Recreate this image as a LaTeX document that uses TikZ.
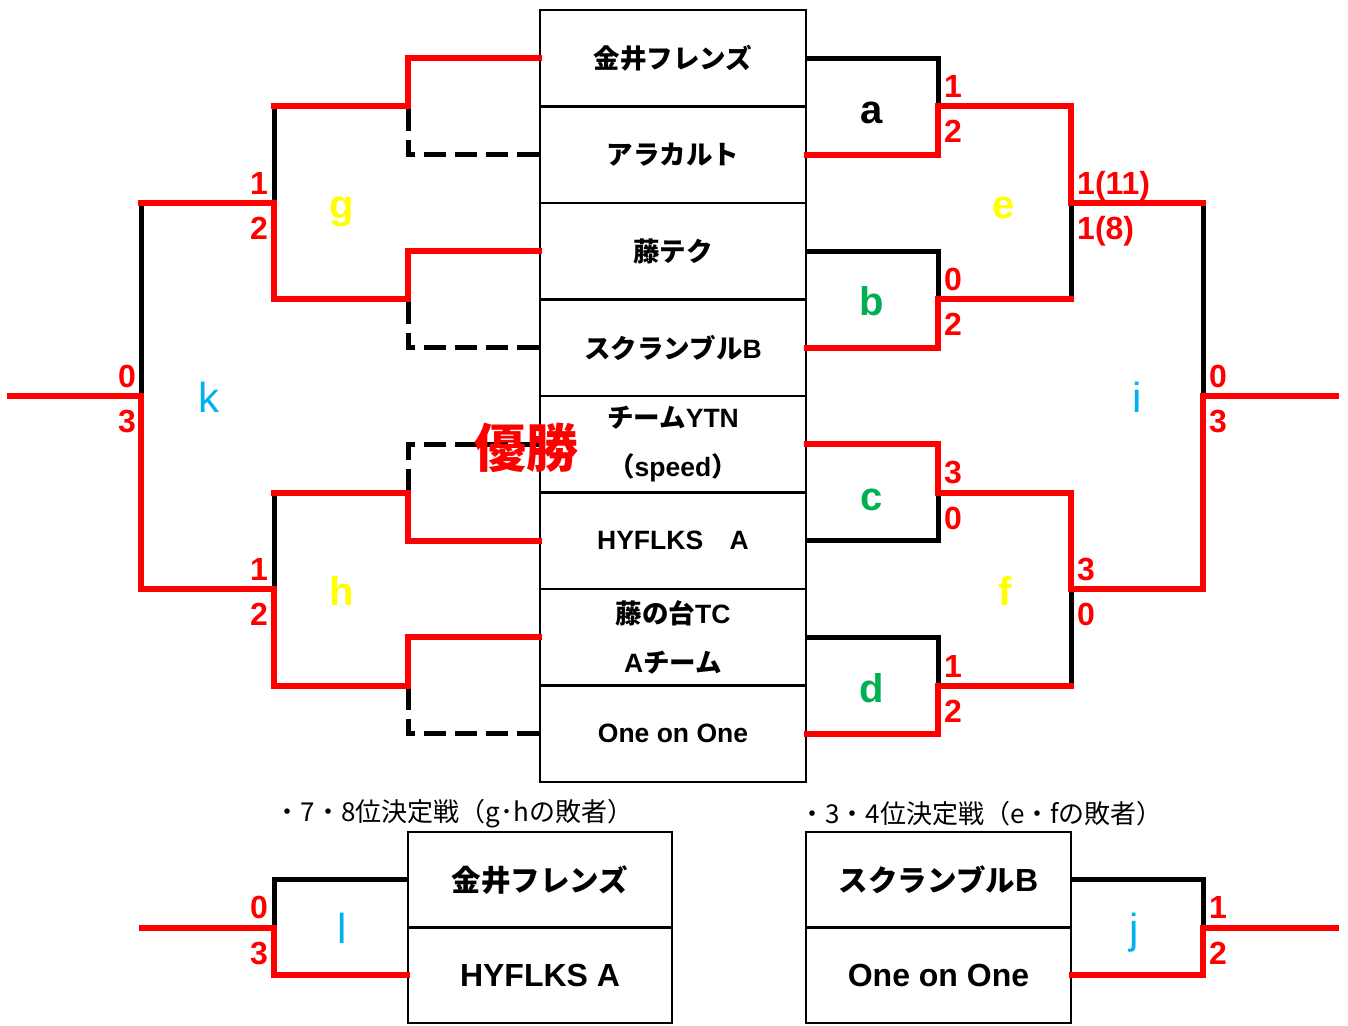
\documentclass[tikz,border=0pt]{standalone}
\usepackage{fontspec}
\setmainfont{Liberation Sans}
\newfontfamily\jp{Noto Sans CJK JP}
\newcommand{\jpS}[1]{{\jp\fontsize{29.5}{40}\selectfont #1}}
\definecolor{myred}{RGB}{255,0,0}
\definecolor{myyel}{RGB}{255,255,0}
\definecolor{mygrn}{RGB}{0,176,80}
\definecolor{myblu}{RGB}{0,176,240}
\begin{document}
\begin{tikzpicture}[x=1pt,y=-1pt,
  cell/.style={draw=black, line width=2.5pt, minimum width=266pt, minimum height=96.5pt, inner sep=0pt, align=center, font=\fontsize{26.5}{49}\selectfont\bfseries},
  bcell/.style={draw=black, line width=2.5pt, minimum width=265pt, minimum height=95.5pt, inner sep=0pt, align=center, font=\fontsize{32}{40}\selectfont\bfseries},
  win/.style={draw=myred, line width=6pt, line join=miter, line cap=rect},
  lose/.style={draw=black, line width=5pt, line join=miter, line cap=rect},
  dashline/.style={draw=black, line width=5pt, dash pattern=on 22pt off 9pt},
  score/.style={text=myred, font=\fontsize{32}{32}\selectfont\bfseries, inner sep=0pt},
  lt/.style={font=\fontsize{40}{40}\selectfont\bfseries, inner sep=0pt, anchor=base},
  ltr/.style={font=\fontsize{42}{42}\selectfont, inner sep=0pt, anchor=base, text=myblu},
  head/.style={font=\jp\fontsize{26}{26}\selectfont, inner sep=0pt}
]
\useasboundingbox[fill=white] (0,0) rectangle (1348,1025);

% main table
\node[cell] (t1) at (673,58.25) {{\jp 金井フレンズ}};
\node[cell] (t2) at (673,154.75) {{\jp アラカルト}};
\node[cell] (t3) at (673,251.25) {{\jp 藤テク}};
\node[cell] (t4) at (673,347.75) {{\jp スクランブル}B};
\node[cell] (t5) at (673,444.25) {{\jp チーム}YTN\\{\jp （}speed{\jp ）}};
\node[cell] (t6) at (673,540.75) {HYFLKS{\jp 　}A};
\node[cell] (t7) at (673,637.25) {{\jp 藤の台}TC\\A{\jp チーム}};
\node[cell] (t8) at (673,733.75) {One on One};

% coordinates left
\coordinate (g1) at (408,106);
\coordinate (g2) at (408,299);
\coordinate (gtop) at (274,106);
\coordinate (gbot) at (274,299);
\coordinate (gk) at (274,203);
\coordinate (kup) at (141,203);
\coordinate (kk) at (141,396);
\coordinate (kout) at (10,396);
\coordinate (kdn) at (141,589);
\coordinate (hk) at (274,589);
\coordinate (htop) at (274,493);
\coordinate (hbot) at (274,686);
\coordinate (h1) at (408,493);
\coordinate (h2) at (408,686);
% coordinates right
\coordinate (a1) at (938,106);
\coordinate (b1) at (938,299);
\coordinate (c1) at (938,493);
\coordinate (d1) at (938,686);
\coordinate (ea) at (1071,106);
\coordinate (eb) at (1071,299);
\coordinate (ei) at (1071,203);
\coordinate (fc) at (1071,493);
\coordinate (fd) at (1071,686);
\coordinate (fi) at (1071,589);
\coordinate (ie) at (1203,203);
\coordinate (if) at (1203,589);
\coordinate (ii) at (1203,396);
\coordinate (iout) at (1336,396);

% left side losers
\draw[dashline] (t2.west) -| (g1);
\draw[dashline] (t4.west) -| (g2);
\draw[dashline] (t5.west) -| (h1);
\draw[dashline] (t8.west) -| (h2);
\draw[lose] (gtop) -- (gk);
\draw[lose] (kup) -- (kk);
\draw[lose] (htop) -- (hk);
% left side winners
\draw[win] (t1.west) -| (g1) -- (gtop);
\draw[win] (t3.west) -| (g2) -- (gbot) -- (gk) -- (kup);
\draw[win] (kout) -- (kk) -- (kdn) -- (hk) -- (hbot) -- (h2) |- (t7.west);
\draw[win] (htop) -- (h1) |- (t6.west);

% right side losers
\draw[lose] (t1.east) -| (a1);
\draw[lose] (t3.east) -| (b1);
\draw[lose] (t6.east) -| (c1);
\draw[lose] (t7.east) -| (d1);
\draw[lose] (eb) -- (ei);
\draw[lose] (ie) -- (ii);
\draw[lose] (fd) -- (fi);
% right side winners
\draw[win] (t2.east) -| (a1) -- (ea) -- (ei) -- (ie);
\draw[win] (t4.east) -| (b1) -- (eb);
\draw[win] (t5.east) -| (c1) -- (fc) -- (fi) -- (if) -- (ii) -- (iout);
\draw[win] (t8.east) -| (d1) -- (fd);

% scores left
\node[score, anchor=base east] (sg1) at (268,194) {1};
\node[score, anchor=base east] (sg2) at (268,239) {2};
\node[score, anchor=base east] (sh1) at (268,580) {1};
\node[score, anchor=base east] (sh2) at (268,625) {2};
\node[score, anchor=base east] (sk1) at (136,387) {0};
\node[score, anchor=base east] (sk2) at (136,432) {3};
% scores right
\node[score, anchor=base west] (sa1) at (944,97) {1};
\node[score, anchor=base west] (sa2) at (944,142) {2};
\node[score, anchor=base west] (sb1) at (944,290) {0};
\node[score, anchor=base west] (sb2) at (944,335) {2};
\node[score, anchor=base west] (sc1) at (944,483) {3};
\node[score, anchor=base west] (sc2) at (944,529) {0};
\node[score, anchor=base west] (sd1) at (944,677) {1};
\node[score, anchor=base west] (sd2) at (944,722) {2};
\node[score, anchor=base west] (se1) at (1077,194) {1(11)};
\node[score, anchor=base west] (se2) at (1077,239) {1(8)};
\node[score, anchor=base west] (sf1) at (1077,580) {3};
\node[score, anchor=base west] (sf2) at (1077,625) {0};
\node[score, anchor=base west] (si1) at (1209,387) {0};
\node[score, anchor=base west] (si2) at (1209,432) {3};

% match letters
\node[lt, text=black] (la) at (872,123) {a};
\node[lt, text=mygrn] (lb) at (872,315) {b};
\node[lt, text=mygrn] (lc) at (872,510) {c};
\node[lt, text=mygrn] (ld) at (872,702) {d};
\node[lt, text=myyel] (le) at (1004,218) {e};
\node[lt, text=myyel] (lf) at (1005,605) {f};
\node[lt, text=myyel] (lg) at (342,218) {g};
\node[lt, text=myyel] (lh) at (342,605) {h};
\node[ltr] (li) at (1137,412) {i};
\node[ltr] (lk) at (209,412) {k};

% champion
\node[text=myred, font=\jp\fontsize{52}{52}\selectfont\bfseries, inner sep=0pt] (champ) at (526,448) {優勝};

% bottom: 7-8 place
\node[head] (h78) at (454,814) {・7・8位決定戦（g･hの敗者）};
\node[bcell, minimum width=264pt] (l1) at (540,879.75) {\jpS{金井フレンズ}};
\node[bcell, minimum width=264pt] (l2) at (540,975.25) {HYFLKS A};
\coordinate (lj) at (274,928);
\coordinate (lout) at (142,928);
\draw[lose] (l1.west) -| (lj);
\draw[win] (l2.west) -| (lj) -- (lout);
\node[score, anchor=base east] (sl1) at (268,918) {0};
\node[score, anchor=base east] (sl2) at (268,964) {3};
\node[ltr] (ll) at (342,943) {l};

% bottom: 3-4 place
\node[head] (h34) at (981,814) {・3・4位決定戦（e・fの敗者）};
\node[bcell] (r1) at (938.5,879.75) {\jpS{スクランブル}B};
\node[bcell] (r2) at (938.5,975.25) {One on One};
\coordinate (jj) at (1203,928);
\coordinate (jout) at (1336,928);
\draw[lose] (r1.east) -| (jj);
\draw[win] (r2.east) -| (jj) -- (jout);
\node[score, anchor=base west] (sj1) at (1209,918) {1};
\node[score, anchor=base west] (sj2) at (1209,964) {2};
\node[ltr] (lj2) at (1134,943) {j};
\end{tikzpicture}
\end{document}
